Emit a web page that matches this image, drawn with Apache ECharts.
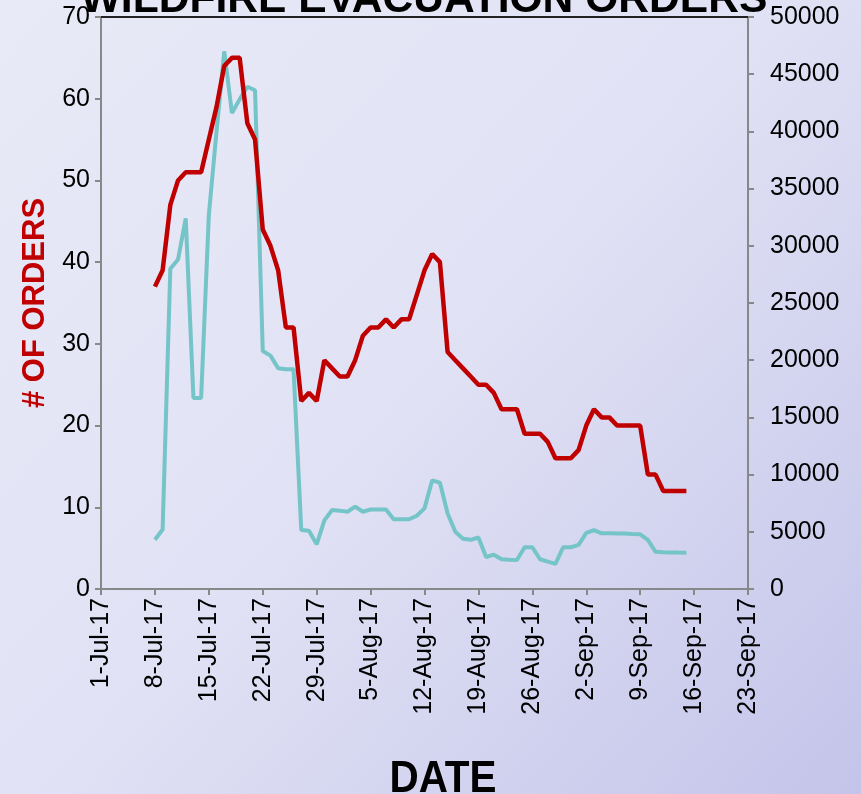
<!DOCTYPE html>
<html>
<head>
<meta charset="utf-8">
<script src="https://cdn.jsdelivr.net/npm/echarts@6/dist/echarts.min.js"></script>
<style>
html,body{margin:0;padding:0;background:#e4e5f5;}
#chart{width:861px;height:794px;}
</style>
</head>
<body>
<div id="chart"></div>
<script>
// ---- data ----
const axisStart = '2017-07-01';
const axisEnd = '2017-09-23';
const dates = [
 '2017-07-08','2017-07-09','2017-07-10','2017-07-11','2017-07-12','2017-07-13','2017-07-14',
 '2017-07-15','2017-07-16','2017-07-17','2017-07-18','2017-07-19','2017-07-20','2017-07-21',
 '2017-07-22','2017-07-23','2017-07-24','2017-07-25','2017-07-26','2017-07-27','2017-07-28',
 '2017-07-29','2017-07-30','2017-07-31','2017-08-01','2017-08-02','2017-08-03','2017-08-04',
 '2017-08-05','2017-08-06','2017-08-07','2017-08-08','2017-08-09','2017-08-10','2017-08-11',
 '2017-08-12','2017-08-13','2017-08-14','2017-08-15','2017-08-16','2017-08-17','2017-08-18',
 '2017-08-19','2017-08-20','2017-08-21','2017-08-22','2017-08-23','2017-08-24','2017-08-25',
 '2017-08-26','2017-08-27','2017-08-28','2017-08-29','2017-08-30','2017-08-31','2017-09-01',
 '2017-09-02','2017-09-03','2017-09-04','2017-09-05','2017-09-06','2017-09-07','2017-09-08',
 '2017-09-09','2017-09-10','2017-09-11','2017-09-12','2017-09-13','2017-09-14','2017-09-15'
];
const orders = [
 37,39,47,50,51,51,51,
 55,59,64,65,65,57,55,
 44,42,39,32,32,23,24,
 23,28,27,26,26,28,31,
 32,32,33,32,33,33,36,
 39,41,40,29,28,27,26,
 25,25,24,22,22,22,19,
 19,19,18,16,16,16,17,
 20,22,21,21,20,20,20,
 20,14,14,12,12,12,12
];
const evacuees = [
 4300,5200,28000,28800,32400,16700,16700,
 32700,40000,47000,41600,42800,43900,43600,
 20800,20400,19300,19200,19200,5150,5100,
 3900,6000,6900,6850,6750,7200,6750,
 6950,6950,6950,6100,6100,6100,6400,
 7050,9500,9300,6600,5000,4400,4300,
 4500,2800,3000,2600,2550,2530,3650,
 3650,2600,2400,2200,3650,3650,3850,
 4900,5150,4870,4870,4860,4850,4800,
 4780,4300,3250,3220,3200,3180,3170
];
const monthNames = ['Jan','Feb','Mar','Apr','May','Jun','Jul','Aug','Sep','Oct','Nov','Dec'];
const titleText = 'WILDFIRE EVACUATION ORDERS';
const xTitle = 'DATE';
const yTitle = '# OF ORDERS';

// ---- helpers ----
// day numbers are counted from a week before the axis start, so the x range (7..91)
// is a whole number of weeks and never contains 0
const DAY = 86400000;
function toUTC(s){ const p = s.split('-'); return Date.UTC(+p[0], +p[1]-1, +p[2]); }
const t0 = toUTC(axisStart) - 7*DAY;
const dayOf = s => Math.round((toUTC(s) - t0) / DAY);
const xMin = dayOf(axisStart);
const xMax = dayOf(axisEnd);
function fmtDay(v){
  const d = new Date(t0 + v*DAY);
  return d.getUTCDate() + '-' + monthNames[d.getUTCMonth()] + '-' + String(d.getUTCFullYear()).slice(2);
}
const ordersData = dates.map((d,i)=>[dayOf(d), orders[i]]);
const evacData = dates.map((d,i)=>[dayOf(d), evacuees[i]]);

const FONT = '"Liberation Sans", Arial, sans-serif';
const axisGray = '#888888';

const chart = echarts.init(document.getElementById('chart'), null, {renderer:'canvas'});
chart.setOption({
  animation:false,
  backgroundColor:{
    type:'linear', x:0, y:0, x2:1, y2:1,
    colorStops:[
      {offset:0, color:'#e9eaf7'},
      {offset:0.5, color:'#e0e1f4'},
      {offset:1, color:'#c4c4ea'}
    ]
  },
  graphic:[
    {type:'text', x:424, y:-21, scaleX:0.99,
     style:{text:titleText, font:'bold 43px "Liberation Sans", Arial, sans-serif', fill:'#000', align:'center', verticalAlign:'top'}},
    {type:'text', x:443, y:758, scaleX:0.92,
     style:{text:xTitle, font:'bold 44px "Liberation Sans", Arial, sans-serif', fill:'#000', align:'center', verticalAlign:'top'}}
  ],
  grid:{left:101, right:113, top:17, bottom:205, containLabel:false},
  xAxis:[{
    type:'value', min:xMin, max:xMax, interval:7,
    axisLine:{show:true, onZero:false, lineStyle:{color:axisGray, width:2}},
    axisTick:{show:true, length:6, lineStyle:{color:axisGray, width:2}},
    splitLine:{show:false},
    axisLabel:{rotate:90, margin:9, fontFamily:FONT, fontSize:25, color:'#000', formatter:fmtDay}
  },{
    type:'value', min:xMin, max:xMax, position:'top',
    axisLine:{show:true, onZero:false, lineStyle:{color:'#222', width:2}},
    axisTick:{show:false}, axisLabel:{show:false}, splitLine:{show:false}
  }],
  yAxis:[{
    type:'value', min:0, max:70, interval:10, position:'left',
    name:yTitle, nameLocation:'middle', nameRotate:90, nameGap:50,
    nameTextStyle:{fontFamily:FONT, fontSize:31, fontWeight:'bold', color:'#C00000'},
    axisLine:{show:true, onZero:false, lineStyle:{color:axisGray, width:2}},
    axisTick:{show:true, inside:false, length:6, lineStyle:{color:axisGray, width:2}},
    splitLine:{show:false},
    axisLabel:{margin:11, fontFamily:FONT, fontSize:25, color:'#000'}
  },{
    type:'value', min:0, max:50000, interval:5000, position:'right',
    axisLine:{show:true, onZero:false, lineStyle:{color:axisGray, width:2}},
    axisTick:{show:true, inside:false, length:6, lineStyle:{color:axisGray, width:2}},
    splitLine:{show:false},
    axisLabel:{margin:22, fontFamily:FONT, fontSize:25, color:'#000', formatter:v=>String(v)}
  }],
  series:[{
    name:'Evacuees', type:'line', yAxisIndex:1, data:evacData,
    symbol:'none', lineStyle:{color:'#74C4C8', width:4}, z:2
  },{
    name:'Orders', type:'line', yAxisIndex:0, data:ordersData,
    symbol:'none', lineStyle:{color:'#C00000', width:4.5}, z:3
  }]
});
</script>
</body>
</html>
